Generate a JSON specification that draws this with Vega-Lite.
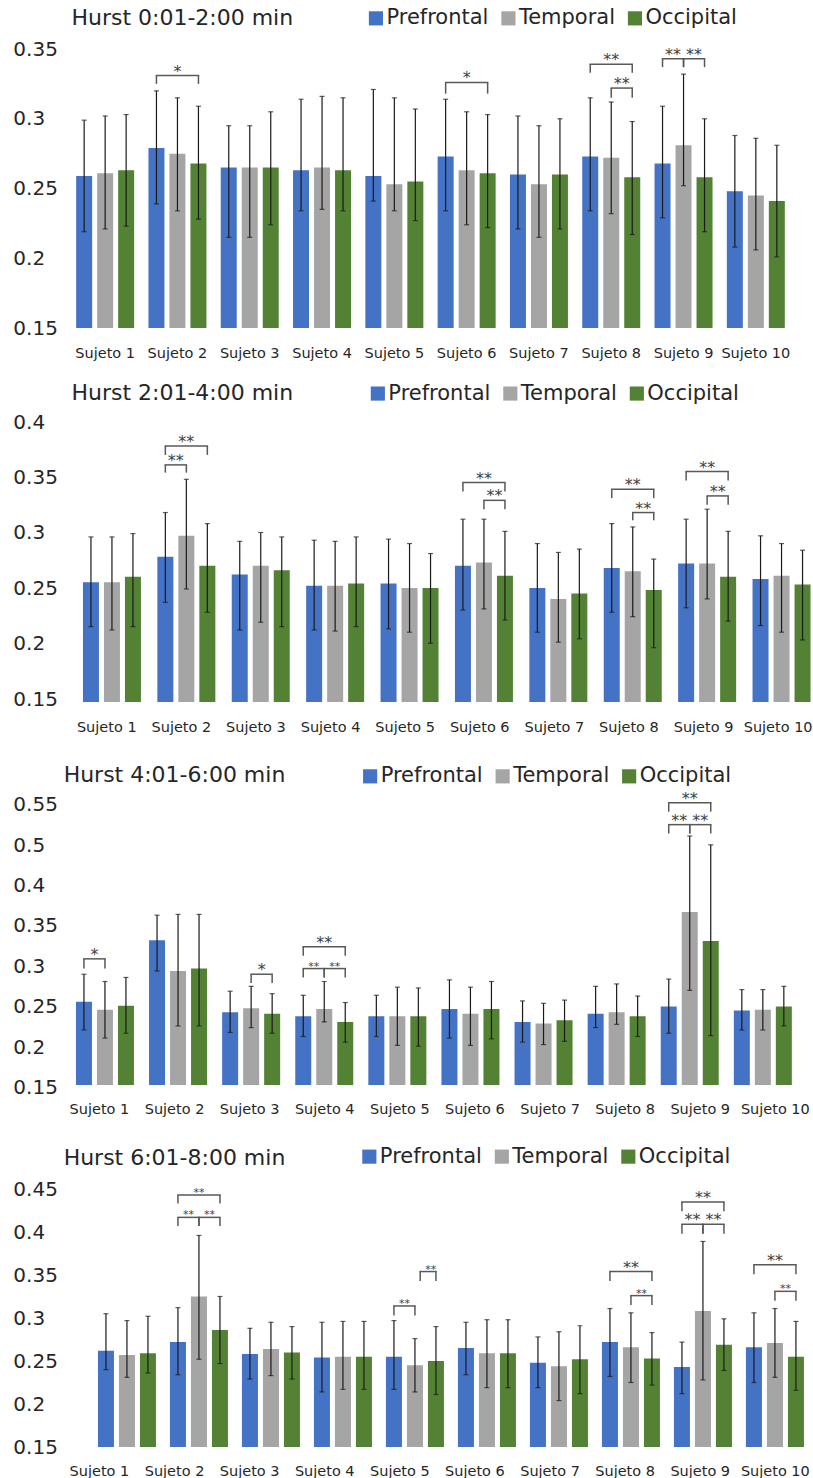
{
  "$schema": "https://vega.github.io/schema/vega-lite/v6.json",
  "background": "white",
  "padding": {"left": 12.7, "top": 7, "right": 0, "bottom": 0},
  "spacing": 21,
  "config": {
    "view": {"stroke": null},
    "font": "DejaVu Sans",
    "axis": {"labelFont": "DejaVu Sans", "labelColor": "#262626", "ticks": false, "domain": false, "grid": false},
    "axisX": {"labelFontSize": 14.5, "labelAngle": 0, "labelPadding": 18},
    "axisY": {"labelFontSize": 20, "labelAlign": "left", "format": "~g", "labelPadding": 54.85},
    "legend": {"direction": "horizontal", "symbolType": "square", "symbolSize": 200, "symbolStrokeWidth": 0, "labelFontSize": 21, "labelFont": "DejaVu Sans", "labelColor": "#262626", "labelOffset": 0, "columnPadding": 8.5, "labelLimit": 300},
    "title": {"anchor": "start", "frame": "group", "offset": 0, "baseline": "alphabetic", "fontSize": 22, "font": "DejaVu Sans", "fontWeight": "normal", "color": "#262626"}
  },
  "resolve": {"scale": {"x": "independent", "y": "independent", "xOffset": "independent", "color": "independent", "size": "independent"}, "legend": {"color": "independent"}},
  "datasets": {
    "barras": [
      {"panel":1,"sujeto":"Sujeto 1","region":"Prefrontal","media":0.259,"inf":0.219,"sup":0.299},
      {"panel":1,"sujeto":"Sujeto 1","region":"Temporal","media":0.261,"inf":0.221,"sup":0.302},
      {"panel":1,"sujeto":"Sujeto 1","region":"Occipital","media":0.263,"inf":0.223,"sup":0.303},
      {"panel":1,"sujeto":"Sujeto 2","region":"Prefrontal","media":0.279,"inf":0.239,"sup":0.320},
      {"panel":1,"sujeto":"Sujeto 2","region":"Temporal","media":0.275,"inf":0.234,"sup":0.315},
      {"panel":1,"sujeto":"Sujeto 2","region":"Occipital","media":0.268,"inf":0.228,"sup":0.309},
      {"panel":1,"sujeto":"Sujeto 3","region":"Prefrontal","media":0.265,"inf":0.215,"sup":0.295},
      {"panel":1,"sujeto":"Sujeto 3","region":"Temporal","media":0.265,"inf":0.215,"sup":0.295},
      {"panel":1,"sujeto":"Sujeto 3","region":"Occipital","media":0.265,"inf":0.224,"sup":0.305},
      {"panel":1,"sujeto":"Sujeto 4","region":"Prefrontal","media":0.263,"inf":0.234,"sup":0.314},
      {"panel":1,"sujeto":"Sujeto 4","region":"Temporal","media":0.265,"inf":0.235,"sup":0.316},
      {"panel":1,"sujeto":"Sujeto 4","region":"Occipital","media":0.263,"inf":0.234,"sup":0.315},
      {"panel":1,"sujeto":"Sujeto 5","region":"Prefrontal","media":0.259,"inf":0.241,"sup":0.321},
      {"panel":1,"sujeto":"Sujeto 5","region":"Temporal","media":0.253,"inf":0.234,"sup":0.315},
      {"panel":1,"sujeto":"Sujeto 5","region":"Occipital","media":0.255,"inf":0.227,"sup":0.307},
      {"panel":1,"sujeto":"Sujeto 6","region":"Prefrontal","media":0.273,"inf":0.234,"sup":0.314},
      {"panel":1,"sujeto":"Sujeto 6","region":"Temporal","media":0.263,"inf":0.224,"sup":0.305},
      {"panel":1,"sujeto":"Sujeto 6","region":"Occipital","media":0.261,"inf":0.222,"sup":0.303},
      {"panel":1,"sujeto":"Sujeto 7","region":"Prefrontal","media":0.260,"inf":0.221,"sup":0.302},
      {"panel":1,"sujeto":"Sujeto 7","region":"Temporal","media":0.253,"inf":0.215,"sup":0.295},
      {"panel":1,"sujeto":"Sujeto 7","region":"Occipital","media":0.260,"inf":0.221,"sup":0.300},
      {"panel":1,"sujeto":"Sujeto 8","region":"Prefrontal","media":0.273,"inf":0.234,"sup":0.315},
      {"panel":1,"sujeto":"Sujeto 8","region":"Temporal","media":0.272,"inf":0.232,"sup":0.312},
      {"panel":1,"sujeto":"Sujeto 8","region":"Occipital","media":0.258,"inf":0.217,"sup":0.298},
      {"panel":1,"sujeto":"Sujeto 9","region":"Prefrontal","media":0.268,"inf":0.229,"sup":0.309},
      {"panel":1,"sujeto":"Sujeto 9","region":"Temporal","media":0.281,"inf":0.252,"sup":0.332},
      {"panel":1,"sujeto":"Sujeto 9","region":"Occipital","media":0.258,"inf":0.219,"sup":0.300},
      {"panel":1,"sujeto":"Sujeto 10","region":"Prefrontal","media":0.248,"inf":0.208,"sup":0.288},
      {"panel":1,"sujeto":"Sujeto 10","region":"Temporal","media":0.245,"inf":0.206,"sup":0.286},
      {"panel":1,"sujeto":"Sujeto 10","region":"Occipital","media":0.241,"inf":0.201,"sup":0.281},

      {"panel":2,"sujeto":"Sujeto 1","region":"Prefrontal","media":0.258,"inf":0.218,"sup":0.299},
      {"panel":2,"sujeto":"Sujeto 1","region":"Temporal","media":0.258,"inf":0.215,"sup":0.299},
      {"panel":2,"sujeto":"Sujeto 1","region":"Occipital","media":0.263,"inf":0.218,"sup":0.302},
      {"panel":2,"sujeto":"Sujeto 2","region":"Prefrontal","media":0.281,"inf":0.240,"sup":0.321},
      {"panel":2,"sujeto":"Sujeto 2","region":"Temporal","media":0.300,"inf":0.252,"sup":0.351},
      {"panel":2,"sujeto":"Sujeto 2","region":"Occipital","media":0.273,"inf":0.231,"sup":0.311},
      {"panel":2,"sujeto":"Sujeto 3","region":"Prefrontal","media":0.265,"inf":0.215,"sup":0.295},
      {"panel":2,"sujeto":"Sujeto 3","region":"Temporal","media":0.273,"inf":0.222,"sup":0.303},
      {"panel":2,"sujeto":"Sujeto 3","region":"Occipital","media":0.269,"inf":0.218,"sup":0.299},
      {"panel":2,"sujeto":"Sujeto 4","region":"Prefrontal","media":0.255,"inf":0.215,"sup":0.296},
      {"panel":2,"sujeto":"Sujeto 4","region":"Temporal","media":0.255,"inf":0.214,"sup":0.295},
      {"panel":2,"sujeto":"Sujeto 4","region":"Occipital","media":0.257,"inf":0.218,"sup":0.299},
      {"panel":2,"sujeto":"Sujeto 5","region":"Prefrontal","media":0.257,"inf":0.216,"sup":0.297},
      {"panel":2,"sujeto":"Sujeto 5","region":"Temporal","media":0.253,"inf":0.213,"sup":0.293},
      {"panel":2,"sujeto":"Sujeto 5","region":"Occipital","media":0.253,"inf":0.203,"sup":0.284},
      {"panel":2,"sujeto":"Sujeto 6","region":"Prefrontal","media":0.273,"inf":0.233,"sup":0.315},
      {"panel":2,"sujeto":"Sujeto 6","region":"Temporal","media":0.276,"inf":0.234,"sup":0.315},
      {"panel":2,"sujeto":"Sujeto 6","region":"Occipital","media":0.264,"inf":0.224,"sup":0.304},
      {"panel":2,"sujeto":"Sujeto 7","region":"Prefrontal","media":0.253,"inf":0.213,"sup":0.293},
      {"panel":2,"sujeto":"Sujeto 7","region":"Temporal","media":0.243,"inf":0.204,"sup":0.285},
      {"panel":2,"sujeto":"Sujeto 7","region":"Occipital","media":0.248,"inf":0.207,"sup":0.288},
      {"panel":2,"sujeto":"Sujeto 8","region":"Prefrontal","media":0.271,"inf":0.231,"sup":0.311},
      {"panel":2,"sujeto":"Sujeto 8","region":"Temporal","media":0.268,"inf":0.227,"sup":0.308},
      {"panel":2,"sujeto":"Sujeto 8","region":"Occipital","media":0.251,"inf":0.199,"sup":0.279},
      {"panel":2,"sujeto":"Sujeto 9","region":"Prefrontal","media":0.275,"inf":0.235,"sup":0.315},
      {"panel":2,"sujeto":"Sujeto 9","region":"Temporal","media":0.275,"inf":0.243,"sup":0.324},
      {"panel":2,"sujeto":"Sujeto 9","region":"Occipital","media":0.263,"inf":0.223,"sup":0.304},
      {"panel":2,"sujeto":"Sujeto 10","region":"Prefrontal","media":0.261,"inf":0.219,"sup":0.300},
      {"panel":2,"sujeto":"Sujeto 10","region":"Temporal","media":0.264,"inf":0.213,"sup":0.293},
      {"panel":2,"sujeto":"Sujeto 10","region":"Occipital","media":0.256,"inf":0.206,"sup":0.287},

      {"panel":3,"sujeto":"Sujeto 1","region":"Prefrontal","media":0.253,"inf":0.218,"sup":0.287},
      {"panel":3,"sujeto":"Sujeto 1","region":"Temporal","media":0.243,"inf":0.208,"sup":0.278},
      {"panel":3,"sujeto":"Sujeto 1","region":"Occipital","media":0.248,"inf":0.214,"sup":0.283},
      {"panel":3,"sujeto":"Sujeto 2","region":"Prefrontal","media":0.329,"inf":0.291,"sup":0.360},
      {"panel":3,"sujeto":"Sujeto 2","region":"Temporal","media":0.291,"inf":0.223,"sup":0.361},
      {"panel":3,"sujeto":"Sujeto 2","region":"Occipital","media":0.294,"inf":0.223,"sup":0.361},
      {"panel":3,"sujeto":"Sujeto 3","region":"Prefrontal","media":0.240,"inf":0.215,"sup":0.266},
      {"panel":3,"sujeto":"Sujeto 3","region":"Temporal","media":0.245,"inf":0.221,"sup":0.272},
      {"panel":3,"sujeto":"Sujeto 3","region":"Occipital","media":0.238,"inf":0.214,"sup":0.263},
      {"panel":3,"sujeto":"Sujeto 4","region":"Prefrontal","media":0.235,"inf":0.210,"sup":0.261},
      {"panel":3,"sujeto":"Sujeto 4","region":"Temporal","media":0.244,"inf":0.228,"sup":0.278},
      {"panel":3,"sujeto":"Sujeto 4","region":"Occipital","media":0.228,"inf":0.203,"sup":0.252},
      {"panel":3,"sujeto":"Sujeto 5","region":"Prefrontal","media":0.235,"inf":0.210,"sup":0.261},
      {"panel":3,"sujeto":"Sujeto 5","region":"Temporal","media":0.235,"inf":0.199,"sup":0.271},
      {"panel":3,"sujeto":"Sujeto 5","region":"Occipital","media":0.235,"inf":0.198,"sup":0.270},
      {"panel":3,"sujeto":"Sujeto 6","region":"Prefrontal","media":0.244,"inf":0.208,"sup":0.280},
      {"panel":3,"sujeto":"Sujeto 6","region":"Temporal","media":0.238,"inf":0.199,"sup":0.271},
      {"panel":3,"sujeto":"Sujeto 6","region":"Occipital","media":0.244,"inf":0.207,"sup":0.278},
      {"panel":3,"sujeto":"Sujeto 7","region":"Prefrontal","media":0.228,"inf":0.203,"sup":0.254},
      {"panel":3,"sujeto":"Sujeto 7","region":"Temporal","media":0.226,"inf":0.200,"sup":0.251},
      {"panel":3,"sujeto":"Sujeto 7","region":"Occipital","media":0.230,"inf":0.204,"sup":0.255},
      {"panel":3,"sujeto":"Sujeto 8","region":"Prefrontal","media":0.238,"inf":0.221,"sup":0.272},
      {"panel":3,"sujeto":"Sujeto 8","region":"Temporal","media":0.240,"inf":0.225,"sup":0.275},
      {"panel":3,"sujeto":"Sujeto 8","region":"Occipital","media":0.235,"inf":0.210,"sup":0.260},
      {"panel":3,"sujeto":"Sujeto 9","region":"Prefrontal","media":0.247,"inf":0.214,"sup":0.281},
      {"panel":3,"sujeto":"Sujeto 9","region":"Temporal","media":0.364,"inf":0.267,"sup":0.458},
      {"panel":3,"sujeto":"Sujeto 9","region":"Occipital","media":0.328,"inf":0.211,"sup":0.447},
      {"panel":3,"sujeto":"Sujeto 10","region":"Prefrontal","media":0.242,"inf":0.218,"sup":0.268},
      {"panel":3,"sujeto":"Sujeto 10","region":"Temporal","media":0.243,"inf":0.218,"sup":0.268},
      {"panel":3,"sujeto":"Sujeto 10","region":"Occipital","media":0.247,"inf":0.223,"sup":0.272},

      {"panel":4,"sujeto":"Sujeto 1","region":"Prefrontal","media":0.262,"inf":0.240,"sup":0.305},
      {"panel":4,"sujeto":"Sujeto 1","region":"Temporal","media":0.257,"inf":0.231,"sup":0.297},
      {"panel":4,"sujeto":"Sujeto 1","region":"Occipital","media":0.259,"inf":0.236,"sup":0.302},
      {"panel":4,"sujeto":"Sujeto 2","region":"Prefrontal","media":0.272,"inf":0.234,"sup":0.312},
      {"panel":4,"sujeto":"Sujeto 2","region":"Temporal","media":0.325,"inf":0.252,"sup":0.396},
      {"panel":4,"sujeto":"Sujeto 2","region":"Occipital","media":0.286,"inf":0.247,"sup":0.325},
      {"panel":4,"sujeto":"Sujeto 3","region":"Prefrontal","media":0.258,"inf":0.229,"sup":0.288},
      {"panel":4,"sujeto":"Sujeto 3","region":"Temporal","media":0.264,"inf":0.233,"sup":0.295},
      {"panel":4,"sujeto":"Sujeto 3","region":"Occipital","media":0.260,"inf":0.229,"sup":0.290},
      {"panel":4,"sujeto":"Sujeto 4","region":"Prefrontal","media":0.254,"inf":0.214,"sup":0.295},
      {"panel":4,"sujeto":"Sujeto 4","region":"Temporal","media":0.255,"inf":0.217,"sup":0.296},
      {"panel":4,"sujeto":"Sujeto 4","region":"Occipital","media":0.255,"inf":0.217,"sup":0.296},
      {"panel":4,"sujeto":"Sujeto 5","region":"Prefrontal","media":0.255,"inf":0.217,"sup":0.297},
      {"panel":4,"sujeto":"Sujeto 5","region":"Temporal","media":0.245,"inf":0.214,"sup":0.276},
      {"panel":4,"sujeto":"Sujeto 5","region":"Occipital","media":0.250,"inf":0.211,"sup":0.290},
      {"panel":4,"sujeto":"Sujeto 6","region":"Prefrontal","media":0.265,"inf":0.234,"sup":0.295},
      {"panel":4,"sujeto":"Sujeto 6","region":"Temporal","media":0.259,"inf":0.219,"sup":0.298},
      {"panel":4,"sujeto":"Sujeto 6","region":"Occipital","media":0.259,"inf":0.219,"sup":0.298},
      {"panel":4,"sujeto":"Sujeto 7","region":"Prefrontal","media":0.248,"inf":0.219,"sup":0.278},
      {"panel":4,"sujeto":"Sujeto 7","region":"Temporal","media":0.244,"inf":0.204,"sup":0.284},
      {"panel":4,"sujeto":"Sujeto 7","region":"Occipital","media":0.252,"inf":0.212,"sup":0.291},
      {"panel":4,"sujeto":"Sujeto 8","region":"Prefrontal","media":0.272,"inf":0.232,"sup":0.311},
      {"panel":4,"sujeto":"Sujeto 8","region":"Temporal","media":0.266,"inf":0.225,"sup":0.306},
      {"panel":4,"sujeto":"Sujeto 8","region":"Occipital","media":0.253,"inf":0.222,"sup":0.283},
      {"panel":4,"sujeto":"Sujeto 9","region":"Prefrontal","media":0.243,"inf":0.212,"sup":0.272},
      {"panel":4,"sujeto":"Sujeto 9","region":"Temporal","media":0.308,"inf":0.228,"sup":0.389},
      {"panel":4,"sujeto":"Sujeto 9","region":"Occipital","media":0.269,"inf":0.239,"sup":0.299},
      {"panel":4,"sujeto":"Sujeto 10","region":"Prefrontal","media":0.266,"inf":0.225,"sup":0.306},
      {"panel":4,"sujeto":"Sujeto 10","region":"Temporal","media":0.271,"inf":0.231,"sup":0.311},
      {"panel":4,"sujeto":"Sujeto 10","region":"Occipital","media":0.255,"inf":0.216,"sup":0.296}
    ],
    "corchetes": [
      {"panel":1,"sujeto":"Sujeto 2","desde":"Prefrontal","hasta":"Occipital","medio":"Temporal","alto":0.331,"bajo":0.325,"sig":"*","tam":"grande"},
      {"panel":1,"sujeto":"Sujeto 6","desde":"Prefrontal","hasta":"Occipital","medio":"Temporal","alto":0.326,"bajo":0.318,"sig":"*","tam":"grande"},
      {"panel":1,"sujeto":"Sujeto 8","desde":"Prefrontal","hasta":"Occipital","medio":"Temporal","alto":0.339,"bajo":0.333,"sig":"**","tam":"grande"},
      {"panel":1,"sujeto":"Sujeto 8","desde":"Temporal","hasta":"Occipital","medio":"T-O","alto":0.322,"bajo":0.315,"sig":"**","tam":"grande"},
      {"panel":1,"sujeto":"Sujeto 9","desde":"Prefrontal","hasta":"Temporal","medio":"P-T","alto":0.343,"bajo":0.337,"sig":"**","tam":"grande"},
      {"panel":1,"sujeto":"Sujeto 9","desde":"Temporal","hasta":"Occipital","medio":"T-O","alto":0.343,"bajo":0.337,"sig":"**","tam":"grande"},

      {"panel":2,"sujeto":"Sujeto 2","desde":"Prefrontal","hasta":"Occipital","medio":"Temporal","alto":0.381,"bajo":0.373,"sig":"**","tam":"grande"},
      {"panel":2,"sujeto":"Sujeto 2","desde":"Prefrontal","hasta":"Temporal","medio":"P-T","alto":0.364,"bajo":0.357,"sig":"**","tam":"grande"},
      {"panel":2,"sujeto":"Sujeto 6","desde":"Prefrontal","hasta":"Occipital","medio":"Temporal","alto":0.348,"bajo":0.340,"sig":"**","tam":"grande"},
      {"panel":2,"sujeto":"Sujeto 6","desde":"Temporal","hasta":"Occipital","medio":"T-O","alto":0.332,"bajo":0.324,"sig":"**","tam":"grande"},
      {"panel":2,"sujeto":"Sujeto 8","desde":"Prefrontal","hasta":"Occipital","medio":"Temporal","alto":0.342,"bajo":0.334,"sig":"**","tam":"grande"},
      {"panel":2,"sujeto":"Sujeto 8","desde":"Temporal","hasta":"Occipital","medio":"T-O","alto":0.321,"bajo":0.314,"sig":"**","tam":"grande"},
      {"panel":2,"sujeto":"Sujeto 9","desde":"Prefrontal","hasta":"Occipital","medio":"Temporal","alto":0.358,"bajo":0.350,"sig":"**","tam":"grande"},
      {"panel":2,"sujeto":"Sujeto 9","desde":"Temporal","hasta":"Occipital","medio":"T-O","alto":0.336,"bajo":0.328,"sig":"**","tam":"grande"},

      {"panel":3,"sujeto":"Sujeto 1","desde":"Prefrontal","hasta":"Temporal","medio":"P-T","alto":0.306,"bajo":0.294,"sig":"*","tam":"grande"},
      {"panel":3,"sujeto":"Sujeto 3","desde":"Temporal","hasta":"Occipital","medio":"T-O","alto":0.287,"bajo":0.276,"sig":"*","tam":"grande"},
      {"panel":3,"sujeto":"Sujeto 4","desde":"Prefrontal","hasta":"Occipital","medio":"Temporal","alto":0.321,"bajo":0.310,"sig":"**","tam":"grande"},
      {"panel":3,"sujeto":"Sujeto 4","desde":"Prefrontal","hasta":"Temporal","medio":"P-T","alto":0.294,"bajo":0.283,"sig":"**","tam":"pequeño"},
      {"panel":3,"sujeto":"Sujeto 4","desde":"Temporal","hasta":"Occipital","medio":"T-O","alto":0.294,"bajo":0.283,"sig":"**","tam":"pequeño"},
      {"panel":3,"sujeto":"Sujeto 9","desde":"Prefrontal","hasta":"Occipital","medio":"Temporal","alto":0.499,"bajo":0.488,"sig":"**","tam":"grande"},
      {"panel":3,"sujeto":"Sujeto 9","desde":"Prefrontal","hasta":"Temporal","medio":"P-T","alto":0.472,"bajo":0.461,"sig":"**","tam":"grande"},
      {"panel":3,"sujeto":"Sujeto 9","desde":"Temporal","hasta":"Occipital","medio":"T-O","alto":0.472,"bajo":0.461,"sig":"**","tam":"grande"},

      {"panel":4,"sujeto":"Sujeto 2","desde":"Prefrontal","hasta":"Occipital","medio":"Temporal","alto":0.443,"bajo":0.433,"sig":"**","tam":"pequeño"},
      {"panel":4,"sujeto":"Sujeto 2","desde":"Prefrontal","hasta":"Temporal","medio":"P-T","alto":0.417,"bajo":0.407,"sig":"**","tam":"pequeño"},
      {"panel":4,"sujeto":"Sujeto 2","desde":"Temporal","hasta":"Occipital","medio":"T-O","alto":0.417,"bajo":0.407,"sig":"**","tam":"pequeño"},
      {"panel":4,"sujeto":"Sujeto 5","desde":"Prefrontal","hasta":"Temporal","medio":"P-T","alto":0.314,"bajo":0.303,"sig":"**","tam":"pequeño"},
      {"panel":4,"sujeto":"Sujeto 5","desde":"·5","hasta":"Occipital","medio":"·7","alto":0.354,"bajo":0.343,"sig":"**","tam":"pequeño"},
      {"panel":4,"sujeto":"Sujeto 8","desde":"Prefrontal","hasta":"Occipital","medio":"Temporal","alto":0.354,"bajo":0.343,"sig":"**","tam":"grande"},
      {"panel":4,"sujeto":"Sujeto 8","desde":"Temporal","hasta":"Occipital","medio":"T-O","alto":0.326,"bajo":0.315,"sig":"**","tam":"pequeño"},
      {"panel":4,"sujeto":"Sujeto 9","desde":"Prefrontal","hasta":"Occipital","medio":"Temporal","alto":0.435,"bajo":0.424,"sig":"**","tam":"grande"},
      {"panel":4,"sujeto":"Sujeto 9","desde":"Prefrontal","hasta":"Temporal","medio":"P-T","alto":0.409,"bajo":0.398,"sig":"**","tam":"grande"},
      {"panel":4,"sujeto":"Sujeto 9","desde":"Temporal","hasta":"Occipital","medio":"T-O","alto":0.409,"bajo":0.398,"sig":"**","tam":"grande"},
      {"panel":4,"sujeto":"Sujeto 10","desde":"Prefrontal","hasta":"Occipital","medio":"Temporal","alto":0.362,"bajo":0.351,"sig":"**","tam":"grande"},
      {"panel":4,"sujeto":"Sujeto 10","desde":"Temporal","hasta":"Occipital","medio":"T-O","alto":0.331,"bajo":0.320,"sig":"**","tam":"pequeño"}
    ]
  },
  "vconcat": [
    {
      "width": 725.6, "height": 279,
      "title": {"text": "Hurst 0:01-2:00 min", "dx": 3.75, "dy": 26.8},
      "layer": [
        {"data": {"name": "barras"}, "transform": [{"filter": "datum.panel == 1"}],
         "mark": {"type": "bar", "width": 16},
         "encoding": {
           "x": {"field": "sujeto", "type": "nominal", "title": null, "scale": {"domain": ["Sujeto 1","Sujeto 2","Sujeto 3","Sujeto 4","Sujeto 5","Sujeto 6","Sujeto 7","Sujeto 8","Sujeto 9","Sujeto 10"], "paddingInner": 0.3465, "paddingOuter": 0.19125, "align": 0.5}},
           "xOffset": {"field": "region", "type": "nominal", "scale": {"domain": ["Prefrontal","·1","P-T","·3","Temporal","·5","T-O","·7","Occipital"], "paddingInner": 0, "paddingOuter": 0}},
           "y": {"field": "media", "type": "quantitative", "title": null, "scale": {"domain": [0.15, 0.35], "nice": false, "zero": false}, "axis": {"values": [0.15, 0.2, 0.25, 0.3, 0.35]}},
           "y2": {"datum": 0.15},
           "color": {"field": "region", "type": "nominal", "scale": {"domain": ["Prefrontal","Temporal","Occipital"], "range": ["#4472C4","#A5A5A5","#548235"]}, "legend": {"orient": "none", "legendX": 297.75, "legendY": -41.4, "padding": 0, "title": null}}
         }},
        {"data": {"name": "barras"}, "transform": [{"filter": "datum.panel == 1"}],
         "mark": {"type": "rule", "color": "#1a1a1a", "strokeWidth": 1.2},
         "encoding": {
           "x": {"field": "sujeto", "type": "nominal", "title": null},
           "xOffset": {"field": "region", "type": "nominal"},
           "y": {"field": "inf", "type": "quantitative", "title": null},
           "y2": {"field": "sup"}
         }},
        {"data": {"name": "barras"}, "transform": [{"filter": "datum.panel == 1"}, {"fold": ["inf", "sup"], "as": ["extremo", "valor"]}],
         "mark": {"type": "tick", "color": "#1a1a1a", "thickness": 1.2, "size": 5},
         "encoding": {
           "x": {"field": "sujeto", "type": "nominal", "title": null},
           "xOffset": {"field": "region", "type": "nominal"},
           "y": {"field": "valor", "type": "quantitative", "title": null}
         }},
        {"data": {"name": "corchetes"}, "transform": [{"filter": "datum.panel == 1"}, {"fold": ["desde", "hasta"], "as": ["lado", "pos"]}],
         "mark": {"type": "rule", "color": "#595959", "strokeWidth": 1.5},
         "encoding": {
           "x": {"field": "sujeto", "type": "nominal", "title": null},
           "xOffset": {"field": "pos", "type": "nominal"},
           "y": {"field": "bajo", "type": "quantitative", "title": null},
           "y2": {"field": "alto"}
         }},
        {"data": {"name": "corchetes"}, "transform": [{"filter": "datum.panel == 1"}, {"fold": ["desde", "hasta"], "as": ["lado", "pos"]}],
         "mark": {"type": "line", "color": "#595959", "strokeWidth": 1.5, "strokeCap": "square"},
         "encoding": {
           "x": {"field": "sujeto", "type": "nominal", "title": null},
           "xOffset": {"field": "pos", "type": "nominal"},
           "y": {"field": "alto", "type": "quantitative", "title": null},
           "detail": [{"field": "sujeto"}, {"field": "medio"}]
         }},
        {"data": {"name": "corchetes"}, "transform": [{"filter": "datum.panel == 1"}],
         "mark": {"type": "text", "baseline": "alphabetic", "dy": 1, "color": "#404040", "font": "DejaVu Sans"},
         "encoding": {
           "x": {"field": "sujeto", "type": "nominal", "title": null},
           "xOffset": {"field": "medio", "type": "nominal"},
           "y": {"field": "alto", "type": "quantitative", "title": null},
           "text": {"field": "sig"},
           "size": {"field": "tam", "type": "ordinal", "scale": {"domain": ["grande", "pequeño"], "range": [16, 11]}, "legend": null}
         }}
      ]
    },
    {
      "width": 744, "height": 277,
      "title": {"text": "Hurst 2:01-4:00 min", "dx": 3.75, "dy": 25.8},
      "resolve": {"scale": {"x": "independent"}, "axis": {"x": "independent"}},
      "layer": [
        {"layer": [
          {"data": {"name": "barras"}, "transform": [{"filter": "datum.panel == 2"}],
           "mark": {"type": "bar", "width": 16},
           "encoding": {
             "x": {"field": "sujeto", "type": "nominal", "title": null, "axis": null, "scale": {"domain": ["Sujeto 1","Sujeto 2","Sujeto 3","Sujeto 4","Sujeto 5","Sujeto 6","Sujeto 7","Sujeto 8","Sujeto 9","Sujeto 10"], "paddingInner": 0.3649, "paddingOuter": 0.18245, "align": 0.7597}},
             "xOffset": {"field": "region", "type": "nominal", "scale": {"domain": ["Prefrontal","·1","P-T","·3","Temporal","·5","T-O","·7","Occipital"], "paddingInner": 0, "paddingOuter": 0}},
             "y": {"field": "media", "type": "quantitative", "title": null, "scale": {"domain": [0.15, 0.4], "nice": false, "zero": false}, "axis": {"values": [0.15, 0.2, 0.25, 0.3, 0.35, 0.4], "labelOffset": -3}},
             "y2": {"datum": 0.15},
             "color": {"field": "region", "type": "nominal", "scale": {"domain": ["Prefrontal","Temporal","Occipital"], "range": ["#4472C4","#A5A5A5","#548235"]}, "legend": {"orient": "none", "legendX": 299.65, "legendY": -42.2, "padding": 0, "title": null}}
           }},
          {"data": {"name": "barras"}, "transform": [{"filter": "datum.panel == 2"}],
           "mark": {"type": "rule", "color": "#1a1a1a", "strokeWidth": 1.2},
           "encoding": {
             "x": {"field": "sujeto", "type": "nominal", "title": null},
             "xOffset": {"field": "region", "type": "nominal"},
             "y": {"field": "inf", "type": "quantitative", "title": null},
             "y2": {"field": "sup"}
           }},
          {"data": {"name": "barras"}, "transform": [{"filter": "datum.panel == 2"}, {"fold": ["inf", "sup"], "as": ["extremo", "valor"]}],
           "mark": {"type": "tick", "color": "#1a1a1a", "thickness": 1.2, "size": 5},
           "encoding": {
             "x": {"field": "sujeto", "type": "nominal", "title": null},
             "xOffset": {"field": "region", "type": "nominal"},
             "y": {"field": "valor", "type": "quantitative", "title": null}
           }},
          {"data": {"name": "corchetes"}, "transform": [{"filter": "datum.panel == 2"}, {"fold": ["desde", "hasta"], "as": ["lado", "pos"]}],
           "mark": {"type": "rule", "color": "#595959", "strokeWidth": 1.5},
           "encoding": {
             "x": {"field": "sujeto", "type": "nominal", "title": null},
             "xOffset": {"field": "pos", "type": "nominal"},
             "y": {"field": "bajo", "type": "quantitative", "title": null},
             "y2": {"field": "alto"}
           }},
          {"data": {"name": "corchetes"}, "transform": [{"filter": "datum.panel == 2"}, {"fold": ["desde", "hasta"], "as": ["lado", "pos"]}],
           "mark": {"type": "line", "color": "#595959", "strokeWidth": 1.5, "strokeCap": "square"},
           "encoding": {
             "x": {"field": "sujeto", "type": "nominal", "title": null},
             "xOffset": {"field": "pos", "type": "nominal"},
             "y": {"field": "alto", "type": "quantitative", "title": null},
             "detail": [{"field": "sujeto"}, {"field": "medio"}]
           }},
          {"data": {"name": "corchetes"}, "transform": [{"filter": "datum.panel == 2"}],
           "mark": {"type": "text", "baseline": "alphabetic", "dy": 1, "color": "#404040", "font": "DejaVu Sans"},
           "encoding": {
             "x": {"field": "sujeto", "type": "nominal", "title": null},
             "xOffset": {"field": "medio", "type": "nominal"},
             "y": {"field": "alto", "type": "quantitative", "title": null},
             "text": {"field": "sig"},
             "size": {"field": "tam", "type": "ordinal", "scale": {"domain": ["grande", "pequeño"], "range": [16, 11]}, "legend": null}
           }}
        ]},
        {"data": {"name": "barras"}, "transform": [{"filter": "datum.panel == 2"}],
         "mark": {"type": "point", "opacity": 0},
         "encoding": {
           "x": {"field": "sujeto", "type": "nominal", "title": null, "scale": {"type": "point", "domain": ["Sujeto 1","Sujeto 2","Sujeto 3","Sujeto 4","Sujeto 5","Sujeto 6","Sujeto 7","Sujeto 8","Sujeto 9","Sujeto 10"], "padding": 0.4866, "align": 0.531}, "axis": {"orient": "bottom"}},
           "y": {"datum": 0.15, "type": "quantitative"}
         }}
      ]
    },
    {
      "width": 732.4, "height": 283,
      "title": {"text": "Hurst 4:01-6:00 min", "dx": -4.05, "dy": 35.8},
      "resolve": {"scale": {"x": "independent"}, "axis": {"x": "independent"}},
      "layer": [
        {"layer": [
          {"data": {"name": "barras"}, "transform": [{"filter": "datum.panel == 3"}],
           "mark": {"type": "bar", "width": 16},
           "encoding": {
             "x": {"field": "sujeto", "type": "nominal", "title": null, "axis": null, "scale": {"domain": ["Sujeto 1","Sujeto 2","Sujeto 3","Sujeto 4","Sujeto 5","Sujeto 6","Sujeto 7","Sujeto 8","Sujeto 9","Sujeto 10"], "paddingInner": 0.3536, "paddingOuter": 0.1864, "align": 0.5}},
             "xOffset": {"field": "region", "type": "nominal", "scale": {"domain": ["Prefrontal","·1","P-T","·3","Temporal","·5","T-O","·7","Occipital"], "paddingInner": 0, "paddingOuter": 0}},
             "y": {"field": "media", "type": "quantitative", "title": null, "scale": {"domain": [0.15, 0.5], "nice": false, "zero": false}, "axis": {"values": [0.15, 0.2, 0.25, 0.3, 0.35, 0.4, 0.45, 0.5], "labelOffset": 2.7, "labelExpr": "datum.value == 0.45 ? '0.5' : datum.value == 0.5 ? '0.55' : datum.label"}},
             "y2": {"datum": 0.15},
             "color": {"field": "region", "type": "nominal", "scale": {"domain": ["Prefrontal","Temporal","Occipital"], "range": ["#4472C4","#A5A5A5","#548235"]}, "legend": {"orient": "none", "legendX": 281.95, "legendY": -46.4, "padding": 10, "title": null}}
           }},
          {"data": {"name": "barras"}, "transform": [{"filter": "datum.panel == 3"}],
           "mark": {"type": "rule", "color": "#1a1a1a", "strokeWidth": 1.2},
           "encoding": {
             "x": {"field": "sujeto", "type": "nominal", "title": null},
             "xOffset": {"field": "region", "type": "nominal"},
             "y": {"field": "inf", "type": "quantitative", "title": null},
             "y2": {"field": "sup"}
           }},
          {"data": {"name": "barras"}, "transform": [{"filter": "datum.panel == 3"}, {"fold": ["inf", "sup"], "as": ["extremo", "valor"]}],
           "mark": {"type": "tick", "color": "#1a1a1a", "thickness": 1.2, "size": 5},
           "encoding": {
             "x": {"field": "sujeto", "type": "nominal", "title": null},
             "xOffset": {"field": "region", "type": "nominal"},
             "y": {"field": "valor", "type": "quantitative", "title": null}
           }},
          {"data": {"name": "corchetes"}, "transform": [{"filter": "datum.panel == 3"}, {"fold": ["desde", "hasta"], "as": ["lado", "pos"]}],
           "mark": {"type": "rule", "color": "#595959", "strokeWidth": 1.5},
           "encoding": {
             "x": {"field": "sujeto", "type": "nominal", "title": null},
             "xOffset": {"field": "pos", "type": "nominal"},
             "y": {"field": "bajo", "type": "quantitative", "title": null},
             "y2": {"field": "alto"}
           }},
          {"data": {"name": "corchetes"}, "transform": [{"filter": "datum.panel == 3"}, {"fold": ["desde", "hasta"], "as": ["lado", "pos"]}],
           "mark": {"type": "line", "color": "#595959", "strokeWidth": 1.5, "strokeCap": "square"},
           "encoding": {
             "x": {"field": "sujeto", "type": "nominal", "title": null},
             "xOffset": {"field": "pos", "type": "nominal"},
             "y": {"field": "alto", "type": "quantitative", "title": null},
             "detail": [{"field": "sujeto"}, {"field": "medio"}]
           }},
          {"data": {"name": "corchetes"}, "transform": [{"filter": "datum.panel == 3"}],
           "mark": {"type": "text", "baseline": "alphabetic", "dy": 1, "color": "#404040", "font": "DejaVu Sans"},
           "encoding": {
             "x": {"field": "sujeto", "type": "nominal", "title": null},
             "xOffset": {"field": "medio", "type": "nominal"},
             "y": {"field": "alto", "type": "quantitative", "title": null},
             "text": {"field": "sig"},
             "size": {"field": "tam", "type": "ordinal", "scale": {"domain": ["grande", "pequeño"], "range": [16, 11]}, "legend": null}
           }}
        ]},
        {"data": {"name": "barras"}, "transform": [{"filter": "datum.panel == 3"}],
         "mark": {"type": "point", "opacity": 0},
         "encoding": {
           "x": {"field": "sujeto", "type": "nominal", "title": null, "scale": {"type": "point", "domain": ["Sujeto 1","Sujeto 2","Sujeto 3","Sujeto 4","Sujeto 5","Sujeto 6","Sujeto 7","Sujeto 8","Sujeto 9","Sujeto 10"], "padding": 0.3762, "align": 0.5531}, "axis": {"orient": "bottom"}},
           "y": {"datum": 0.15, "type": "quantitative"}
         }}
      ]
    },
    {
      "width": 744, "height": 258,
      "title": {"text": "Hurst 6:01-8:00 min", "dx": -4.05, "dy": 34.9},
      "resolve": {"scale": {"x": "independent"}, "axis": {"x": "independent"}},
      "layer": [
        {"layer": [
          {"data": {"name": "barras"}, "transform": [{"filter": "datum.panel == 4"}],
           "mark": {"type": "bar", "width": 16},
           "encoding": {
             "x": {"field": "sujeto", "type": "nominal", "title": null, "axis": null, "scale": {"domain": ["Sujeto 1","Sujeto 2","Sujeto 3","Sujeto 4","Sujeto 5","Sujeto 6","Sujeto 7","Sujeto 8","Sujeto 9","Sujeto 10"], "paddingInner": 0.34375, "paddingOuter": 0.33854, "align": 0.7308}},
             "xOffset": {"field": "region", "type": "nominal", "scale": {"domain": ["Prefrontal","·1","P-T","·3","Temporal","·5","T-O","·7","Occipital"], "paddingInner": 0, "paddingOuter": 0}},
             "y": {"field": "media", "type": "quantitative", "title": null, "scale": {"domain": [0.15, 0.45], "nice": false, "zero": false}, "axis": {"values": [0.15, 0.2, 0.25, 0.3, 0.35, 0.4, 0.45], "labelOffset": 0.5}},
             "y2": {"datum": 0.15},
             "color": {"field": "region", "type": "nominal", "scale": {"domain": ["Prefrontal","Temporal","Occipital"], "range": ["#4472C4","#A5A5A5","#548235"]}, "legend": {"orient": "none", "legendX": 284.15, "legendY": -50.1, "padding": 7, "title": null}}
           }},
          {"data": {"name": "barras"}, "transform": [{"filter": "datum.panel == 4"}],
           "mark": {"type": "rule", "color": "#1a1a1a", "strokeWidth": 1.2},
           "encoding": {
             "x": {"field": "sujeto", "type": "nominal", "title": null},
             "xOffset": {"field": "region", "type": "nominal"},
             "y": {"field": "inf", "type": "quantitative", "title": null},
             "y2": {"field": "sup"}
           }},
          {"data": {"name": "barras"}, "transform": [{"filter": "datum.panel == 4"}, {"fold": ["inf", "sup"], "as": ["extremo", "valor"]}],
           "mark": {"type": "tick", "color": "#1a1a1a", "thickness": 1.2, "size": 5},
           "encoding": {
             "x": {"field": "sujeto", "type": "nominal", "title": null},
             "xOffset": {"field": "region", "type": "nominal"},
             "y": {"field": "valor", "type": "quantitative", "title": null}
           }},
          {"data": {"name": "corchetes"}, "transform": [{"filter": "datum.panel == 4"}, {"fold": ["desde", "hasta"], "as": ["lado", "pos"]}],
           "mark": {"type": "rule", "color": "#595959", "strokeWidth": 1.5},
           "encoding": {
             "x": {"field": "sujeto", "type": "nominal", "title": null},
             "xOffset": {"field": "pos", "type": "nominal"},
             "y": {"field": "bajo", "type": "quantitative", "title": null},
             "y2": {"field": "alto"}
           }},
          {"data": {"name": "corchetes"}, "transform": [{"filter": "datum.panel == 4"}, {"fold": ["desde", "hasta"], "as": ["lado", "pos"]}],
           "mark": {"type": "line", "color": "#595959", "strokeWidth": 1.5, "strokeCap": "square"},
           "encoding": {
             "x": {"field": "sujeto", "type": "nominal", "title": null},
             "xOffset": {"field": "pos", "type": "nominal"},
             "y": {"field": "alto", "type": "quantitative", "title": null},
             "detail": [{"field": "sujeto"}, {"field": "medio"}]
           }},
          {"data": {"name": "corchetes"}, "transform": [{"filter": "datum.panel == 4"}],
           "mark": {"type": "text", "baseline": "alphabetic", "dy": 1, "color": "#404040", "font": "DejaVu Sans"},
           "encoding": {
             "x": {"field": "sujeto", "type": "nominal", "title": null},
             "xOffset": {"field": "medio", "type": "nominal"},
             "y": {"field": "alto", "type": "quantitative", "title": null},
             "text": {"field": "sig"},
             "size": {"field": "tam", "type": "ordinal", "scale": {"domain": ["grande", "pequeño"], "range": [16, 11]}, "legend": null}
           }}
        ]},
        {"data": {"name": "barras"}, "transform": [{"filter": "datum.panel == 4"}],
         "mark": {"type": "point", "opacity": 0},
         "encoding": {
           "x": {"field": "sujeto", "type": "nominal", "title": null, "scale": {"type": "point", "domain": ["Sujeto 1","Sujeto 2","Sujeto 3","Sujeto 4","Sujeto 5","Sujeto 6","Sujeto 7","Sujeto 8","Sujeto 9","Sujeto 10"], "padding": 0.4534, "align": 0.4589}, "axis": {"orient": "bottom", "labelPadding": 17.7}},
           "y": {"datum": 0.15, "type": "quantitative"}
         }}
      ]
    }
  ]
}
